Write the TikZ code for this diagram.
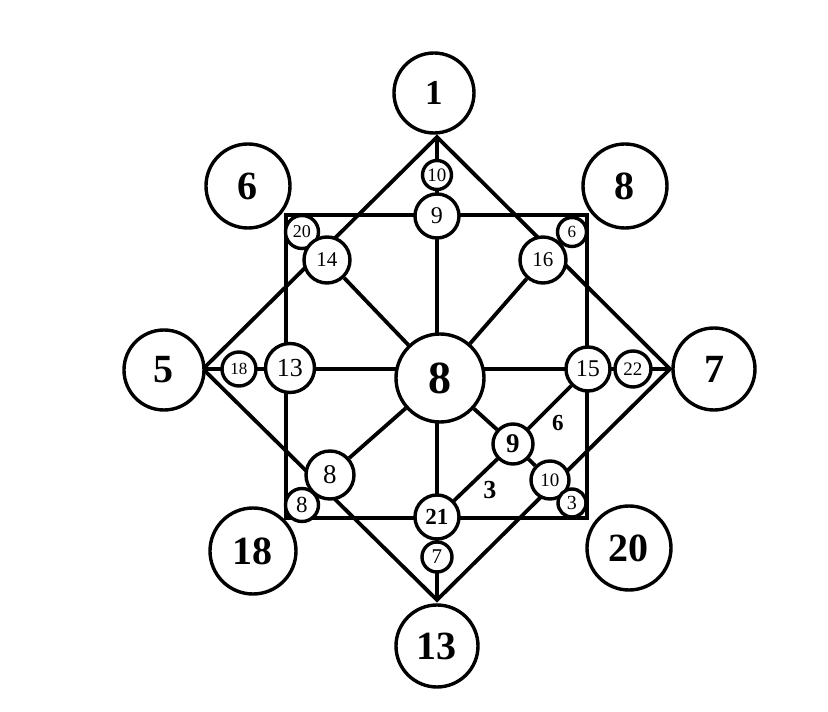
\documentclass[tikz,border=0pt]{standalone}
\usepackage{fontspec}
\setmainfont{Liberation Serif}
\usetikzlibrary{backgrounds}
\tikzset{
  ring/.style={
    circle, draw=black, fill=white, line width=3.4pt,
    inner sep=0pt, minimum size=#1
  },
  txt/.style={font=\fontsize{#1}{#1}\selectfont},
  btxt/.style={font=\fontsize{#1}{#1}\selectfont\bfseries},
  bar/.style={line width=3.8pt, line join=miter},
}
\begin{document}
\begin{tikzpicture}[x=10pt, y=10pt]
    \useasboundingbox (-43.7,36.9) rectangle (39.1,-34.3);

    % diamond tips and square corners
    \coordinate (T) at (0,23.2);
    \coordinate (B) at (0,-23.1);
    \coordinate (L) at (-23.4,0);
    \coordinate (R) at (23.3,0);
    \coordinate (sq1) at (-15.1,15.4);
    \coordinate (sq2) at (15.0,-14.9);

    % outer numbers
    \node[ring=80pt, btxt=35] (o1)  at (-0.3,27.6)  {1};
    \node[ring=84pt, btxt=40] (o6)  at (-18.9,18.3) {6};
    \node[ring=84pt, btxt=40] (o8)  at (18.8,18.3)  {8};
    \node[ring=80pt, btxt=40] (o5)  at (-27.3,-0.1) {5};
    \node[ring=82pt, btxt=40] (o7)  at (27.7,0)     {7};
    \node[ring=86pt, btxt=40] (o18) at (-18.4,-18.2) {18};
    \node[ring=84pt, btxt=40] (o20) at (19.2,-17.9) {20};
    \node[ring=82pt, btxt=40] (o13) at (0,-27.7)    {13};

    % centre
    \node[ring=88pt, btxt=46] (c8) at (0.3,-0.9) {8};

    % inner numbers
    \node[ring=29pt, txt=19] (i10t) at (0,19.4)     {10};
    \node[ring=44pt, txt=24] (i9t)  at (0,15.3)     {9};
    \node[ring=33pt, txt=18] (i20)  at (-13.5,13.7) {20};
    \node[ring=46pt, txt=21] (i14)  at (-11.0,10.9) {14};
    \node[ring=46pt, txt=21] (i16)  at (10.6,10.9)  {16};
    \node[ring=29pt, txt=17] (i6)   at (13.5,13.7)  {6};
    \node[ring=34pt, txt=17] (i18)  at (-19.8,0)    {18};
    \node[ring=49pt, txt=26] (i13)  at (-14.7,0.1)  {13};
    \node[ring=44pt, txt=24] (i15)  at (15.1,0)     {15};
    \node[ring=36pt, txt=19] (i22)  at (19.6,0)     {22};
    \node[ring=40pt, btxt=27] (i9m) at (7.6,-7.5)   {9};
    \node[ring=48pt, txt=27] (i8l)  at (-10.7,-10.6) {8};
    \node[ring=33pt, txt=23] (i8s)  at (-13.5,-13.6) {8};
    \node[ring=38pt, txt=19] (i10b) at (11.3,-11.1) {10};
    \node[ring=28pt, txt=20] (i3)   at (13.5,-13.4) {3};
    \node[ring=44pt, btxt=23] (i21) at (0,-14.8)    {21};
    \node[ring=30pt, txt=21] (i7)   at (0,-18.8)    {7};

    % labels on the slanted line
    \node[btxt=23] (l6) at (12.1,-5.4)  {6};
    \node[btxt=26] (l3) at (5.3,-12.1)  {3};

    \begin{scope}[on background layer]
      \draw[bar] (sq1) rectangle (sq2);
      \draw[bar] (T) -- (R) -- (B) -- (L) -- cycle;
      \draw[bar] (T) -- (B);
      \draw[bar] (L) -- (R);
      \draw[bar] (c8) -- (i14);
      \draw[bar] (c8) -- (i16);
      \draw[bar] (c8) -- (i8l);
      \draw[bar] (c8) -- (i9m) -- (i10b);
      \draw[bar] (i15) -- (i9m) -- (i21);
    \end{scope}
  \end{tikzpicture}
\end{document}
